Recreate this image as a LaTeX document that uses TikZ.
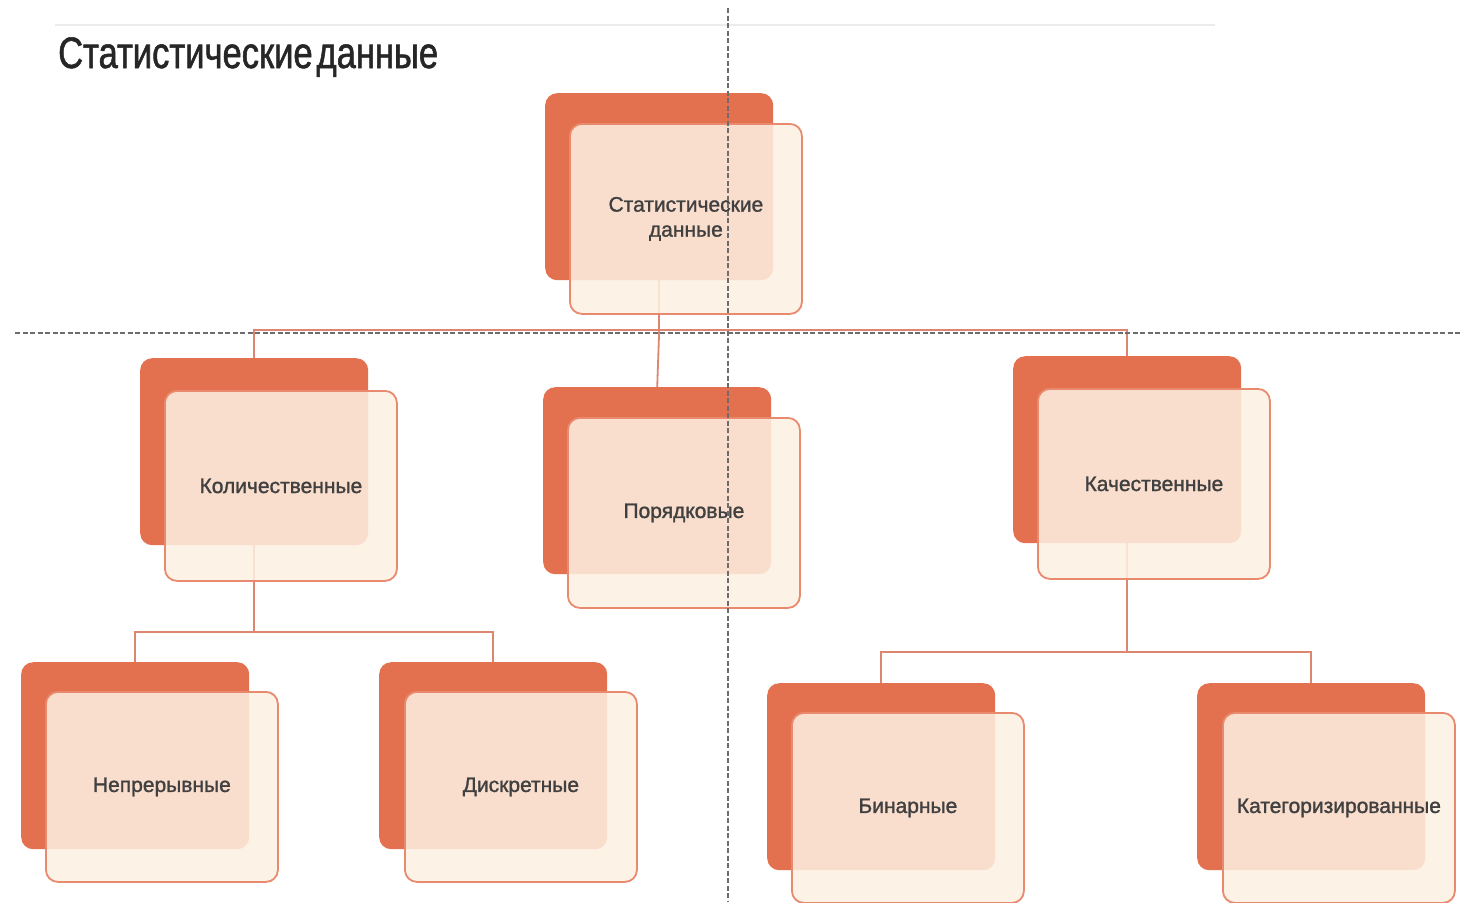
\documentclass[tikz,border=0pt]{standalone}
\usepackage{fontspec}
\setmainfont{Liberation Sans}
\newfontfamily\titlefont[FakeStretch=0.785,FakeBold=1.2]{Liberation Sans}
\newfontfamily\boxfont[FakeBold=1.3]{Liberation Sans}
\usetikzlibrary{calc}
\pgfdeclarelayer{background}
\pgfsetlayers{background,main}
\definecolor{backc}{HTML}{E3704F}
\definecolor{frontc}{HTML}{FDF0E2}
\definecolor{frontb}{HTML}{E98A6E}
\definecolor{linec}{HTML}{DC8670}
\definecolor{txtc}{HTML}{404040}
\tikzset{
  backbox/.style={fill=backc, draw=none, rounded corners=12pt, minimum width=228pt, minimum height=187pt, anchor=north west, inner sep=0pt},
  frontbox/.style={fill=frontc, fill opacity=0.86, text opacity=1, draw=frontb, line width=1.8pt, rounded corners=12pt, minimum width=232pt, minimum height=190pt, anchor=north west, inner sep=0pt, font=\boxfont\fontsize{21}{25}\selectfont, text=txtc, align=center},
  conn/.style={draw=linec, line width=1.8pt},
  guide/.style={draw=gray!85!black, line width=1.3pt, dash pattern=on 5pt off 2.5pt},
}
\begin{document}
\begin{tikzpicture}[x=1pt,y=-1pt]
\useasboundingbox (0,0) rectangle (1463,902);
\begin{pgfonlayer}{background}
\fill[white] (0,0) rectangle (1463,902);
\end{pgfonlayer}
% top thin line
\draw[gray!15, line width=2pt] (55,25) -- (1215,25);
% title
\node[anchor=base west, inner sep=0pt, font=\titlefont\fontsize{44}{48}\selectfont, text=black!85] (title) at (58,68) {Статистические\hspace{4pt}данные};
% back boxes
\node[backbox] (b0) at (545,93) {};
\node[backbox] (b1) at (140,358) {};
\node[backbox] (b2) at (543,387) {};
\node[backbox] (b3) at (1013,356) {};
\node[backbox] (b4) at (21,662) {};
\node[backbox] (b5) at (379,662) {};
\node[backbox] (b6) at (767,683) {};
\node[backbox] (b7) at (1197,683) {};
\coordinate (h0) at (0,330);
\coordinate (h1) at (0,632);
\coordinate (h3) at (0,652);
\begin{pgfonlayer}{background}
\draw[conn] (b0.south) -- (b0.south |- h0) -| (b1.north);
\draw[conn] (b0.south |- h0) -| (b3.north);
\draw[conn] (b0.south |- h0) -- (b2.north);
\draw[conn] (b1.south) -- (b1.south |- h1) -| (b4.north);
\draw[conn] (b1.south |- h1) -| (b5.north);
\draw[conn] (b3.south) -- (b3.south |- h3) -| (b6.north);
\draw[conn] (b3.south |- h3) -| (b7.north);
\end{pgfonlayer}
% front boxes
\node[frontbox] (f0) at ($(b0.north west)+(24,30)$) {Статистические\\данные};
\node[frontbox] (f1) at ($(b1.north west)+(24,32)$) {Количественные};
\node[frontbox] (f2) at ($(b2.north west)+(24,30)$) {Порядковые};
\node[frontbox] (f3) at ($(b3.north west)+(24,32)$) {Качественные};
\node[frontbox] (f4) at ($(b4.north west)+(24,29)$) {Непрерывные};
\node[frontbox] (f5) at ($(b5.north west)+(25,29)$) {Дискретные};
\node[frontbox] (f6) at ($(b6.north west)+(24,29)$) {Бинарные};
\node[frontbox] (f7) at ($(b7.north west)+(25,29)$) {Категоризированные};
% guides
\coordinate (g1) at (15,333);
\coordinate (g2) at (1463,333);
\coordinate (g3) at (728,8);
\coordinate (g4) at (728,902);
\draw[guide] (g1) -- (g2);
\draw[guide] (g3) -- (g4);
\end{tikzpicture}
\end{document}
